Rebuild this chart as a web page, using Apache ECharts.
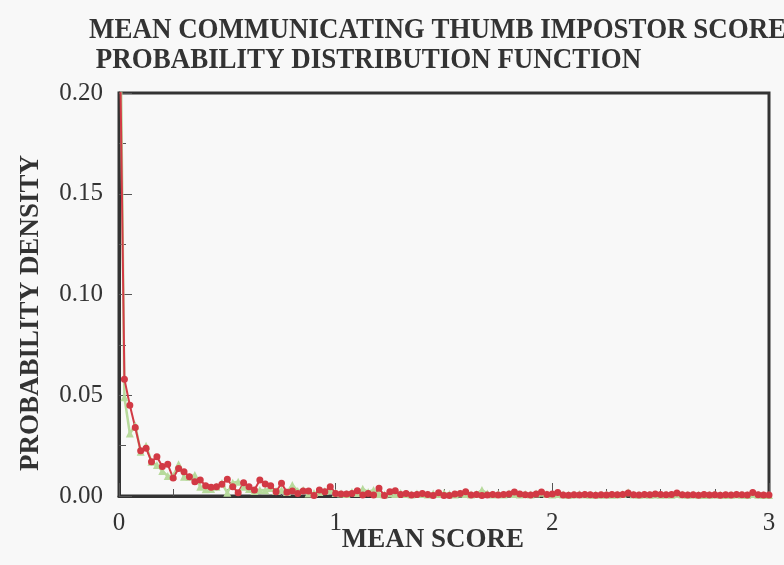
<!DOCTYPE html>
<html>
<head>
<meta charset="utf-8">
<script src="https://cdn.jsdelivr.net/npm/echarts@6/dist/echarts.min.js"></script>
<style>
html,body{margin:0;padding:0;background:#f8f8f8;}
#c{width:784px;height:565px;}
</style>
</head>
<body>
<div id="c"></div>
<script>
// sampling step of the mean score axis
const scoreStep = 0.025;
const xTicks = ['0', '1', '2', '3'];
const yTicks = ['0.00', '0.05', '0.10', '0.15', '0.20'];
const titleLines = ['MEAN COMMUNICATING THUMB IMPOSTOR SCORE', ' PROBABILITY DISTRIBUTION FUNCTION'];
const xName = 'MEAN SCORE';
const yName = 'PROBABILITY DENSITY';

// red series (circles)
const redValues = [
  0.260, 0.058, 0.045, 0.034, 0.0225, 0.0237, 0.017, 0.0195, 0.0146, 0.0157,
  0.0089, 0.0137, 0.012, 0.0096, 0.0071, 0.0079, 0.0051, 0.0043, 0.0046, 0.0058,
  0.0083, 0.0046, 0.0016, 0.0066, 0.0046, 0.0030, 0.0079, 0.0060, 0.0051, 0.0021,
  0.0063, 0.0018, 0.0025, 0.0013, 0.0025, 0.0025, 0.0003, 0.0030, 0.0021, 0.0046,
  0.0013, 0.0010, 0.0010, 0.0013, 0.0026, 0.0005, 0.0013, 0.0005, 0.0038, 0.0002,
  0.0021, 0.0026, 0.0008, 0.0013, 0.0005, 0.0008, 0.0013, 0.0008, 0.0003, 0.0016,
  0.0003, 0.0003, 0.0010, 0.0013, 0.0021, 0.0005, 0.0008, 0.0003, 0.0005, 0.0008,
  0.0005, 0.0008, 0.0010, 0.0020, 0.0010, 0.0006, 0.0005, 0.0010, 0.0020, 0.0008,
  0.0010, 0.0017, 0.0005, 0.0004, 0.0006, 0.0005, 0.0008, 0.0006, 0.0004, 0.0006,
  0.0005, 0.0008, 0.0006, 0.0008, 0.0015, 0.0006, 0.0005, 0.0008, 0.0006, 0.0010,
  0.0008, 0.0006, 0.0008, 0.0015, 0.0006, 0.0005, 0.0006, 0.0004, 0.0008, 0.0005,
  0.0006, 0.0004, 0.0006, 0.0005, 0.0008, 0.0006, 0.0005, 0.0017, 0.0006, 0.0005,
  0.0005
];

// green series (triangles)
const greenValues = [
  0.300, 0.049, 0.031, 0.035, 0.022, 0.025, 0.017, 0.0154, 0.0124, 0.0099,
  0.0100, 0.0157, 0.0096, 0.0096, 0.0104, 0.0046, 0.0033, 0.0035, 0.0046, 0.0064,
  0.0016, 0.0066, 0.0071, 0.0046, 0.0035, 0.0025, 0.0030, 0.0028, 0.0040, 0.0025,
  0.0030, 0.0020, 0.0054, 0.0025, 0.0030, 0.0012, 0.0015, 0.0020, 0.0025, 0.0030,
  0.0015, 0.0012, 0.0010, 0.0020, 0.0015, 0.0036, 0.0020, 0.0030, 0.0010, 0.0008,
  0.0012, 0.0010, 0.0015, 0.0010, 0.0008, 0.0012, 0.0010, 0.0008, 0.0012, 0.0010,
  0.0015, 0.0010, 0.0008, 0.0012, 0.0010, 0.0008, 0.0010, 0.0030, 0.0012, 0.0008,
  0.0010, 0.0008, 0.0012, 0.0010, 0.0008, 0.0010, 0.0008, 0.0012, 0.0016, 0.0010,
  0.0008, 0.0010, 0.0008, 0.0006, 0.0008, 0.0010, 0.0008, 0.0006, 0.0008, 0.0006,
  0.0008, 0.0006, 0.0008, 0.0010, 0.0018, 0.0008, 0.0006, 0.0008, 0.0006, 0.0008,
  0.0006, 0.0008, 0.0006, 0.0010, 0.0008, 0.0006, 0.0008, 0.0006, 0.0005, 0.0006,
  0.0008, 0.0006, 0.0005, 0.0006, 0.0008, 0.0006, 0.0005, 0.0010, 0.0006, 0.0005,
  0.0005
];

const serif = '"Liberation Serif", "DejaVu Serif", serif';
const pairs = vals => vals.map((v, i) => [+(i * scoreStep).toFixed(3), v]);

const chart = echarts.init(document.getElementById('c'), null, {renderer: 'canvas'});
chart.setOption({
  backgroundColor: '#f8f8f8',
  animation: false,
  graphic: [
    {
      type: 'text', x: 89, y: 16, scaleX: 0.93, z: 10,
      style: {text: titleLines.join('\n'), font: 'bold 29px ' + serif, fill: '#333', lineHeight: 30,
        textAlign: 'left', textVerticalAlign: 'top'}
    },
    {
      type: 'text', x: 31, y: 313, rotation: Math.PI / 2, z: 10,
      style: {text: yName, font: 'bold 27px ' + serif, fill: '#333', textAlign: 'center', textVerticalAlign: 'middle'}
    },
    {
      type: 'text', x: 433, y: 540, z: 10,
      style: {text: xName, font: 'bold 27px ' + serif, fill: '#333', textAlign: 'center', textVerticalAlign: 'middle'}
    }
  ],
  grid: {left: 119, right: 15, top: 93, bottom: 69, show: true, borderColor: '#333', borderWidth: 3, backgroundColor: 'transparent'},
  xAxis: {
    type: 'value', min: 0, max: 3, interval: 1,
    axisLine: {lineStyle: {color: '#333', width: 3}},
    axisTick: {inside: true, length: 13, lineStyle: {color: '#555'}},
    minorTick: {show: true, splitNumber: 4, length: 7, lineStyle: {color: '#555'}},
    splitLine: {show: false},
    axisLabel: {fontFamily: serif, fontSize: 25, color: '#333', margin: 15,
      formatter: v => xTicks[Math.round(v)]}
  },
  yAxis: {
    type: 'value', min: 0, max: 0.2, interval: 0.05,
    axisLine: {show: true, lineStyle: {color: '#333', width: 3}},
    axisTick: {show: true, inside: true, length: 13, lineStyle: {color: '#555'}},
    minorTick: {show: true, splitNumber: 2, length: 7, lineStyle: {color: '#555'}},
    splitLine: {show: false},
    axisLabel: {fontFamily: serif, fontSize: 25, color: '#333', margin: 16,
      formatter: v => yTicks[Math.round(v / 0.05)]}
  },
  series: [
    {
      name: 'green', type: 'line', data: pairs(greenValues), clip: true,
      symbol: 'triangle', symbolSize: 8, showSymbol: true,
      lineStyle: {color: '#b7da9c', width: 2.5},
      itemStyle: {color: '#b7da9c'}
    },
    {
      name: 'red', type: 'line', data: pairs(redValues), clip: true,
      symbol: 'circle', symbolSize: 5.5, showSymbol: true,
      lineStyle: {color: '#d23a45', width: 2},
      itemStyle: {color: '#d23a45', borderColor: '#d23a45', borderWidth: 1.5}
    }
  ]
});
</script>
</body>
</html>
